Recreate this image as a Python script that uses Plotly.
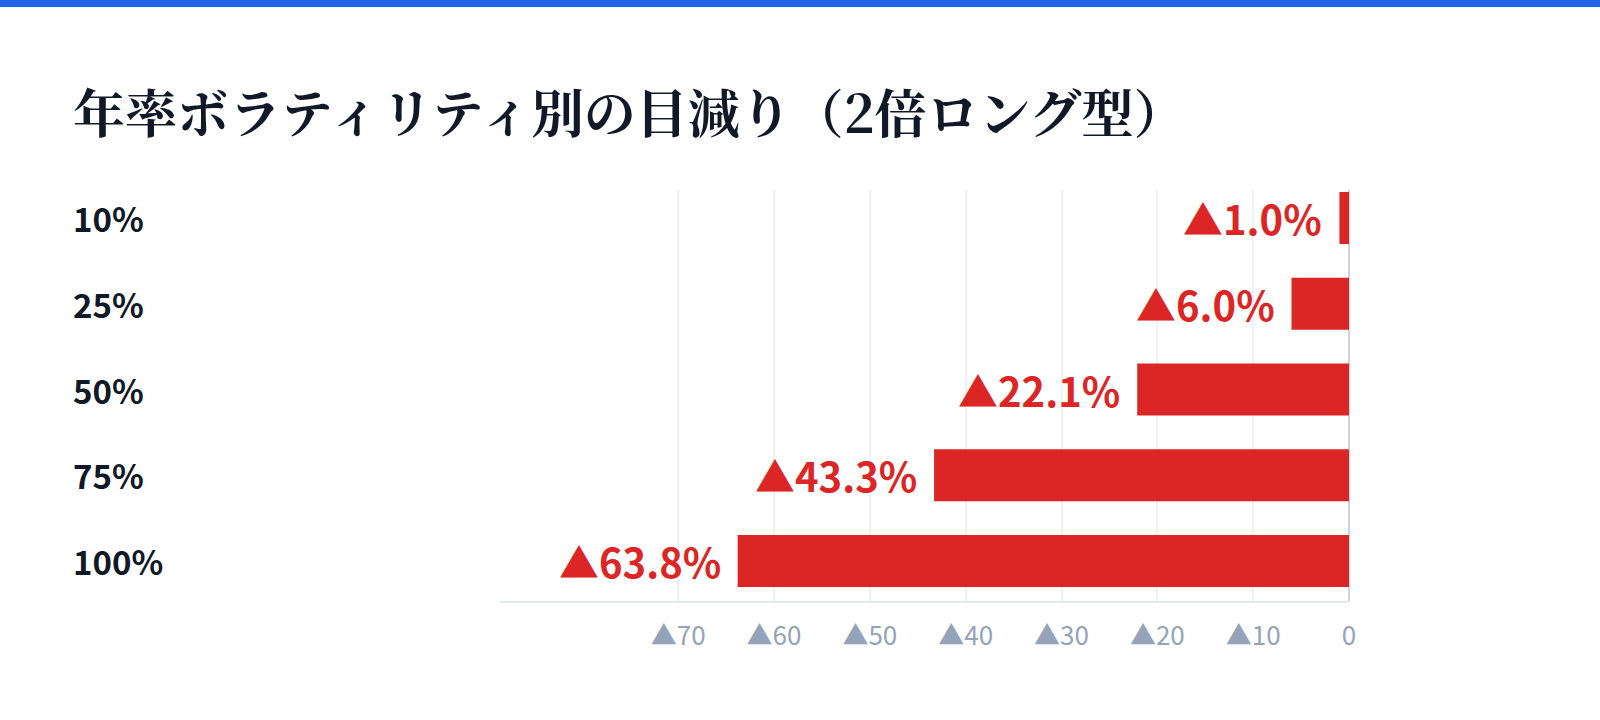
import plotly.graph_objects as go

# 年率ボラティリティ別の目減り（2倍ロング型）
volatility = ["10%", "25%", "50%", "75%", "100%"]
decay = [1.0, 6.0, 22.1, 43.3, 63.8]
tick_vals = [70, 60, 50, 40, 30, 20, 10, 0]
tick_text = ["▲70", "▲60", "▲50", "▲40", "▲30", "▲20", "▲10", "0"]

RED = "#dc2626"
NAVY = "#111827"
SANS = "Noto Sans CJK JP, Noto Sans, sans-serif"
SERIF = "Noto Serif CJK JP, Noto Sans CJK JP, serif"

W, H = 1600, 720
ml, mr, mt, mb = 500, 251, 190, 119
plot_w = W - ml - mr
plot_h = H - mt - mb
left_x = (71 - ml) / plot_w

fig = go.Figure()
fig.add_trace(go.Bar(
    x=[-v for v in decay],
    y=volatility,
    orientation="h",
    marker=dict(color=RED, line=dict(width=0)),
    width=0.607,
    hoverinfo="skip",
))

# bar-end labels
for cat, v in zip(volatility, decay):
    fig.add_annotation(
        x=-v, y=cat, xref="x", yref="y",
        text=f"▲{v:.1f}%", showarrow=False,
        xanchor="right", yanchor="middle", xshift=-15,
        font=dict(family=SANS, size=40, color=RED, weight="bold"),
    )

# category labels, left aligned at the left edge
for cat in volatility:
    fig.add_annotation(
        x=left_x, y=cat, xref="paper", yref="y",
        text=cat, showarrow=False, xanchor="left", yanchor="middle",
        font=dict(family=SANS, size=33, color=NAVY, weight="bold"),
    )

fig.add_annotation(
    x=left_x, y=1 + (mt - 110) / plot_h, xref="paper", yref="paper",
    text="年率ボラティリティ別の目減り（2倍ロング型）", showarrow=False,
    xanchor="left", yanchor="middle",
    font=dict(family=SERIF, size=52, color=NAVY, weight="bold"),
)

# blue strip at the top
fig.add_shape(
    type="rect", xref="paper", yref="paper",
    x0=-ml / plot_w, x1=1 + mr / plot_w,
    y0=1 + (mt - 7) / plot_h, y1=1 + mt / plot_h,
    fillcolor="#2563eb", line=dict(width=0),
)

fig.update_xaxes(
    range=[-88.6, 0],
    tickvals=[-t for t in tick_vals],
    ticktext=tick_text,
    tickfont=dict(family=SANS, size=26, color="#94a3b8"),
    ticks="outside", ticklen=11, tickcolor="rgba(0,0,0,0)",
    showgrid=True, gridcolor="#eef1f6", gridwidth=2,
    zeroline=True, zerolinecolor="#cbd5e1", zerolinewidth=2,
    showline=True, linecolor="#e2e8f0", linewidth=2,
    fixedrange=True,
)
fig.update_yaxes(
    type="category",
    range=[4.467, -0.327],
    showticklabels=False, showgrid=False, zeroline=False,
    fixedrange=True,
)
fig.update_layout(
    width=W, height=H,
    margin=dict(l=ml, r=mr, t=mt, b=mb),
    plot_bgcolor="white", paper_bgcolor="white",
    showlegend=False,
)

fig.write_html(
    "out.html",
    config={"displayModeBar": False},
    post_script="document.body.style.margin='0';document.body.style.overflow='hidden';",
)
